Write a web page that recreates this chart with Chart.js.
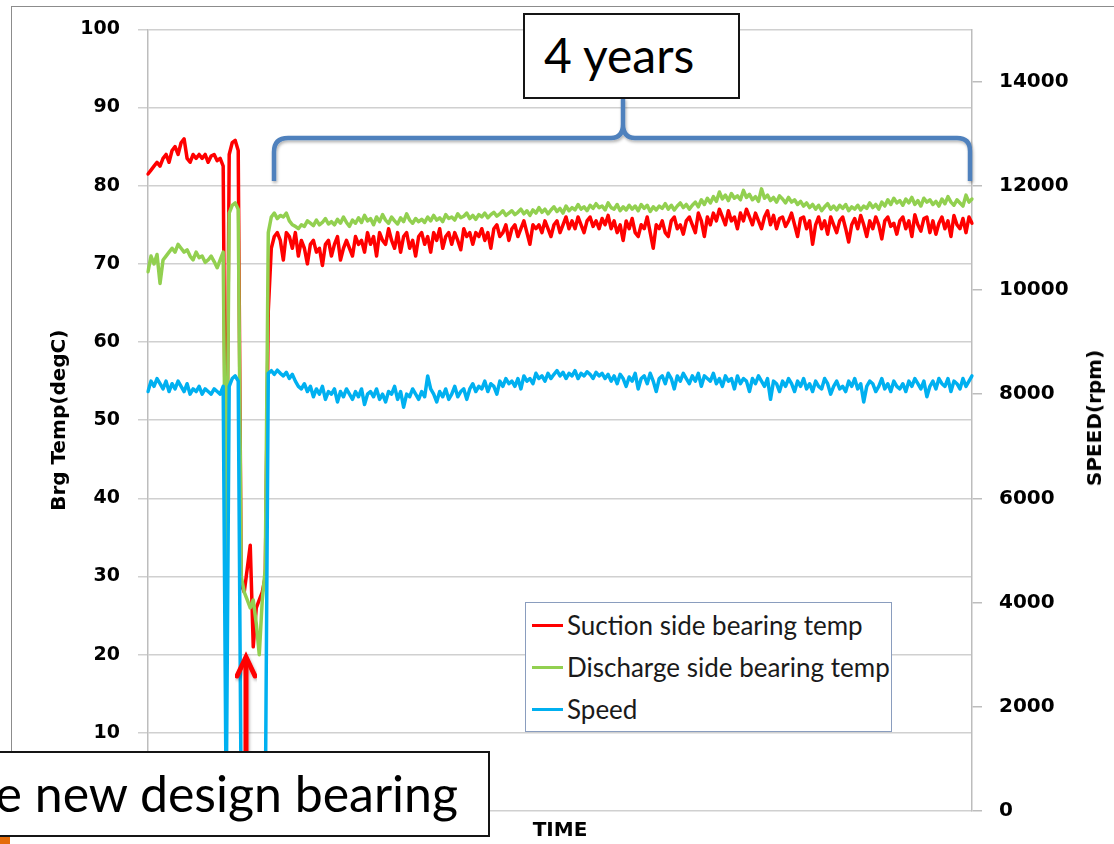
<!DOCTYPE html>
<html>
<head>
<meta charset="utf-8">
<script src="https://cdn.jsdelivr.net/npm/chart.js@4.4.0/dist/chart.umd.min.js"></script>
<style>
  html, body { margin: 0; padding: 0; background: #fff; }
  #wrap { position: relative; width: 1114px; height: 844px; overflow: hidden; font-family: Lato, "Open Sans", sans-serif; }
  #chart { position: absolute; left: 0; top: 0; }
  #frame { position: absolute; left: 11px; top: 6px; width: 1200px; height: 746px;
           border-left: 1.5px solid #8c8c8c; border-top: 1.5px solid #8c8c8c; }
  #marks { position: absolute; left: 0; top: 0; }
  .note { position: absolute; box-sizing: border-box; background: #fff; border: 2px solid #151515;
          color: #000; white-space: nowrap; font-size: 48px; }
  #legend { position: absolute; left: 525px; top: 602px; width: 367px; height: 130px; box-sizing: border-box;
            background: #fff; border: 1.5px solid #8a9dbe; padding-top: 1px; }
  .row { position: relative; height: 42px; line-height: 42px; font-size: 26px; color: #1a1a1a; padding-left: 41px; }
  .swatch { position: absolute; left: 6px; top: 20px; width: 31px; height: 3px; }
  #speedTitle { position: absolute; left: 1094px; top: 418px; transform: translate(-50%, -50%) rotate(-90deg);
                font: bold 20px "DejaVu Sans"; color: #000; white-space: nowrap; }
  #orange { position: absolute; left: 0; top: 837px; width: 10px; height: 7px; background: #e46c0a; }
</style>
</head>
<body>
<div id="wrap">
  <div id="frame"></div>
  <canvas id="chart" width="1114" height="844"></canvas>
  <svg id="marks" width="1114" height="844">
    <defs>
      <filter id="shade" x="-10%" y="-10%" width="120%" height="140%">
        <feDropShadow dx="1" dy="2" stdDeviation="1.5" flood-color="#000" flood-opacity="0.3"/>
      </filter>
    </defs>
    <path d="M 274 181 L 274 152 Q 274 138 288 138 L 611 138 Q 623 138 623 124 L 623 98 M 623 124 Q 623 138 635 138 L 957 138 Q 970 138 970 151 L 970 181"
          fill="none" stroke="#4f81bd" stroke-width="4.5" filter="url(#shade)"/>
    <g stroke="#ff0000" stroke-width="5" fill="none" stroke-linecap="round" filter="url(#shade)">
      <line x1="246" y1="752" x2="246" y2="660"/>
      <polyline points="237,676 246,657 255,676"/>
    </g>
  </svg>
  <div id="legend"></div>
  <div id="speedTitle">SPEED(rpm)</div>
  <div class="note" style="left:523px; top:13px; width:217px; height:86px; line-height:80px; padding-left:19px;">4 years</div>
  <div class="note" style="left:-10px; top:751px; width:500px; height:86px; line-height:80px; text-align:right; padding-right:30px; font-size:50px;">e new design bearing</div>
  <div id="orange"></div>
</div>
<script>
// series names and colours
const seriesNames = ['Suction side bearing temp', 'Discharge side bearing temp', 'Speed'];
const seriesColors = ['#ff0000', '#92d050', '#00b0f0'];

// suction side bearing temperature (degC), one value per time step
const suctionTemp = [
  81.5, 82, 82.5, 83, 82.5, 83.5, 84, 83, 84.5, 85, 84, 85.5, 86, 83.5, 83, 84, 83.5, 84, 83.5, 84,
  83, 83.8, 84, 83.2, 83.5, 82.5,
  30, 84, 85.5, 85.8, 84.5,
  29, 28, 31, 34, 21, 26, 27, 28, 30,
  64,
  72, 73.5, 74, 73, 70.5, 74, 73.5, 72, 74, 71,
  73, 72, 70, 72.5, 73, 71.5, 72, 69.8, 72.5, 73,
  71, 72.5, 73.5, 70.5, 72, 73, 72, 71, 73.5, 72.5,
  73, 71.5, 74, 72.5, 73.5, 71, 74, 73, 72.5, 74.5,
  73, 72, 74, 71.5, 73.5, 74, 72, 73, 71, 73.5,
  74, 72.5, 73.5, 71.5, 74, 73, 74.5, 72, 73.5, 74,
  72.5, 74, 73, 71.8, 74.5, 73.5, 74, 72.5, 74, 73.5,
  74.5, 73, 74, 72, 74.5, 75, 73.5, 74, 75, 73,
  74.5, 75, 73.5, 74.5, 75.5, 74, 72.5, 75, 74.5, 75,
  74, 75.5, 74.5, 73.5, 75, 75.5, 74, 75, 76, 74.5,
  75.5, 74.5, 76, 75, 74, 75.5, 76, 74.8, 75.5, 74.5,
  75.8, 75, 76.2, 74.5, 75.5, 74, 75, 73, 75.5, 74.5,
  75.8, 74, 73.5, 75, 74.5, 76, 74, 72, 75, 74.5,
  75.5, 74, 73.5, 75.5, 76, 74.5, 75, 73.8, 75.5, 76,
  75, 74, 76.5, 75.5, 73.5, 76, 75, 76.5, 75.5, 77,
  76, 75, 76.8, 75.5, 76, 74.5, 76.5, 75.5, 77, 76,
  75, 76.5, 75.5, 74.5, 76, 76.8, 75, 76.2, 74.5, 75.8,
  76, 74.8, 75.5, 76.5, 75, 73.5, 75.8, 76, 74.5, 75.5,
  72.5, 75, 76, 74.5, 75.5, 73.8, 76, 75, 74, 75.5,
  76, 74.5, 72.8, 75, 75.8, 74.5, 76.2, 75, 73.5, 75.5,
  74.5, 76, 75, 73.2, 75.5, 76, 74.8, 75.2, 73.8, 75.5,
  76, 74.5, 75.5, 73.5, 76.3, 75, 74.2, 75.8, 76, 74,
  75.5, 73.8, 75.2, 76, 74.5, 75.5, 73.5, 76.2, 75, 74.5,
  75.8, 74, 76, 75.2
];

// discharge side bearing temperature (degC)
const dischargeTemp = [
  69, 71, 70, 71.2, 67.5, 70.5, 71, 71.5, 72, 71.5, 72.5, 72, 71.5, 71.8, 71, 70.5, 71.5, 70.8, 71, 70.2,
  70.5, 71, 70.3, 69.5, 70.5, 71.5,
  30, 76.5, 77.5, 77.8, 77,
  30, 28, 27, 26, 27, 24, 20, 27, 31,
  74,
  76, 76.5, 75.8, 76.2, 76, 76.5, 75.5, 75, 74.8, 74.5,
  75, 74.8, 75.5, 75.2, 74.9, 75.6, 75, 75.3, 75.8, 75.1,
  75.4, 75, 75.7, 75.2, 76, 75.3, 74.8, 75.6, 75.2, 75.9,
  75.3, 76.2, 75.5, 75.8, 75, 76, 75.4, 76.3, 75.6, 75.2,
  76, 75.5, 75.1, 75.9, 75.4, 76.4, 75.6, 75.2, 75.8, 75.4,
  75.7, 75.3, 76, 75.5, 76.2, 75.6, 75.9, 75.4, 76.3, 75.8,
  76, 75.6, 76.4, 75.9, 76.1, 76.5, 75.8, 76.2, 75.7, 76.3,
  76, 76.5, 75.9, 76.3, 76.6, 76.1, 76.4, 76.8, 76.2, 76.5,
  76.8, 76.3, 76.6, 77, 76.4, 76.8, 76.2, 76.9, 76.5, 77.2,
  76.6, 77, 76.4, 76.9, 77.3, 76.7, 77.1, 76.5, 77.4, 76.8,
  77.2, 76.9, 77.6, 77, 77.3, 76.8, 77.5, 77.1, 77.7, 77.2,
  77.4, 76.9, 77.8, 77.2, 77, 77.6, 76.8, 77.3, 76.9, 77.5,
  77, 77.4, 76.8, 77.6, 77.1, 77.5, 76.7, 77.3, 76.9, 77.4,
  77.1, 77.7, 77, 77.5, 76.9, 77.4, 77.8, 77.2, 77.6, 77,
  77.5, 77.9, 77.3, 78.2, 77.6, 78.4, 77.8, 78.6, 78, 79.2,
  78.3, 78.8, 78.1, 79, 78.4, 78.7, 78.2, 79.4, 78.5, 78.9,
  78.2, 78.6, 78, 79.6, 78.4, 78.8, 78.1, 78.5, 77.9, 78.7,
  78.3, 77.8, 78.5, 77.9, 78.2, 77.6, 78, 77.4, 77.8, 77.2,
  77.6, 77, 77.5, 76.8, 77.3, 77.7, 77, 77.4, 76.9, 77.5,
  77.1, 77.6, 76.8, 77.3, 77, 77.5, 76.9, 77.4, 77.1, 77.8,
  77.2, 77.6, 77, 77.9, 77.4, 78.2, 77.6, 78.4, 77.8, 78.1,
  77.5, 78.3, 77.8, 78.5, 77.6, 78.1, 77.4, 78.4, 77.9, 78.2,
  77.6, 78, 77.4, 78.3, 77.7, 78.6, 77.9, 77.5, 78.2, 77.8,
  77.4, 78.8, 77.9, 78.3
];

// speed (rpm), right axis
const speedRpm = [
  8050, 8250, 8150, 8300, 8200, 8100, 8250, 8050, 8200, 8100, 8250, 8150, 8050, 8200, 8000, 8100, 8050, 8150, 8000, 8100,
  8050, 8000, 8100, 8050, 8000, 8150,
  0, 8150, 8300, 8350, 8250,
  0, 0, 0, 0, 0, 0, 0, 0, 0,
  8400,
  8450, 8380, 8460, 8400, 8350, 8420, 8300, 8380, 8250, 8150,
  8100, 8200, 8050, 8150, 7950, 8100, 8000, 8150, 7900, 8050,
  8000, 8100, 7850, 8050, 7950, 8100, 8000, 7900, 8050, 7950,
  8100, 7800, 8000, 8050, 7950, 8100, 7900, 8000, 7850, 8050,
  8000, 8150, 7900, 8050, 7750, 8000, 7950, 8100, 8000, 7900,
  8050, 7950, 8350, 8100, 8000, 7850, 8050, 7950, 8100, 7900,
  8000, 8150, 7950, 8050, 8100, 7900, 8100, 8200, 8050, 8150,
  8100, 8250, 8050, 8200, 8150, 8000, 8250, 8150, 8300, 8200,
  8250, 8150, 8300, 8100, 8350, 8250, 8300, 8200, 8400, 8300,
  8350, 8250, 8400, 8300, 8380, 8450, 8350, 8420, 8300, 8400,
  8350, 8450, 8300, 8400, 8350, 8430, 8380, 8300, 8420, 8350,
  8400, 8300, 8380, 8250, 8350, 8200, 8380, 8300, 8150, 8330,
  8250, 8400, 8100, 8300, 8350, 8200, 8400, 8250, 8050, 8300,
  8350, 8200, 8400, 8300, 8100, 8350, 8250, 8400, 8300, 8200,
  8350, 8250, 8400, 8150, 8350, 8300, 8250, 8400, 8200, 8300,
  8150, 8350, 8250, 8300, 8100, 8350, 8200, 8300, 8250, 8050,
  8300, 8200, 8350, 8250, 8150, 8300, 7900, 8250, 8200, 8050,
  8250, 8150, 8300, 8200, 8050, 8250, 8150, 8300, 8100, 8200,
  8050, 8250, 8150, 8100, 8300, 8200, 8000, 8150, 8250, 8100,
  8150, 8050, 8250, 8150, 8300, 8100, 8200, 7850, 8150, 8250,
  8200, 8050, 8150, 8300, 8100, 8200, 8050, 8250, 8150, 8100,
  8200, 8050, 8250, 8150, 8300, 8200, 8100, 8250, 7950, 8150,
  8250, 8100, 8300, 8200, 8150, 8300, 8050, 8250, 8200, 8100,
  8300, 8150, 8250, 8350
];

// axis ranges and tick values
const tempRange = { min: 0, max: 100, step: 10 };
const speedRange = { min: 0, max: 15000 };
const speedTickValues = [0, 2000, 4000, 6000, 8000, 10000, 12000, 14000];

// time steps (no labels on the time axis)
const timeSteps = suctionTemp.map((v, i) => i);

// build the legend box
const legendBox = document.getElementById('legend');
seriesNames.forEach((name, i) => {
  const row = document.createElement('div');
  row.className = 'row';
  row.innerHTML = '<span class="swatch" style="background:' + seriesColors[i] + '"></span>' + name;
  legendBox.appendChild(row);
});

const axisFont = { family: 'DejaVu Sans', size: 19, weight: 'bold' };
const titleFont = { family: 'DejaVu Sans', size: 20, weight: 'bold' };

const ctx = document.getElementById('chart').getContext('2d');
const chart = new Chart(ctx, {
  type: 'line',
  data: {
    labels: timeSteps,
    datasets: [
      { label: seriesNames[0], data: suctionTemp, borderColor: seriesColors[0], yAxisID: 'y', order: 3 },
      { label: seriesNames[1], data: dischargeTemp, borderColor: seriesColors[1], yAxisID: 'y', order: 2 },
      { label: seriesNames[2], data: speedRpm, borderColor: seriesColors[2], yAxisID: 'y1', order: 1 }
    ]
  },
  options: {
    responsive: false,
    animation: false,
    devicePixelRatio: 1,
    layout: { padding: { top: 23, left: 0, right: 0, bottom: 0 } },
    elements: {
      point: { radius: 0 },
      line: { borderWidth: 3.5, tension: 0, borderJoinStyle: 'round', borderCapStyle: 'round' }
    },
    plugins: { legend: { display: false }, tooltip: { enabled: false } },
    scales: {
      x: {
        type: 'category',
        offset: false,
        grid: { display: false },
        border: { display: false },
        ticks: { display: false },
        title: { display: true, text: 'TIME', color: '#000', font: titleFont, padding: { top: 0, bottom: 1 } },
        afterFit: (s) => { s.height = 33; }
      },
      y: {
        position: 'left',
        min: tempRange.min,
        max: tempRange.max,
        ticks: { stepSize: tempRange.step, padding: 18, color: '#000', font: axisFont },
        grid: { color: '#d0d0d0', lineWidth: 1.5, tickLength: 10 },
        border: { color: '#bdbdbd', width: 1.5 },
        title: { display: true, text: 'Brg Temp(degC)', color: '#000', font: titleFont, padding: { top: 48, bottom: 0 } },
        afterFit: (s) => { s.width = 148; }
      },
      y1: {
        position: 'right',
        min: speedRange.min,
        max: speedRange.max,
        afterBuildTicks: (s) => { s.ticks = speedTickValues.map((v) => ({ value: v })); },
        ticks: {
          padding: 17, color: '#000', font: { family: 'DejaVu Sans', size: 20, weight: 'bold' },
          autoSkip: false,
          callback: (v) => String(v)
        },
        grid: { drawOnChartArea: false, color: '#bdbdbd', lineWidth: 1.5, tickLength: 10 },
        border: { color: '#bdbdbd', width: 1.5 },
        afterFit: (s) => { s.width = 142; }
      }
    }
  }
});
</script>
</body>
</html>
